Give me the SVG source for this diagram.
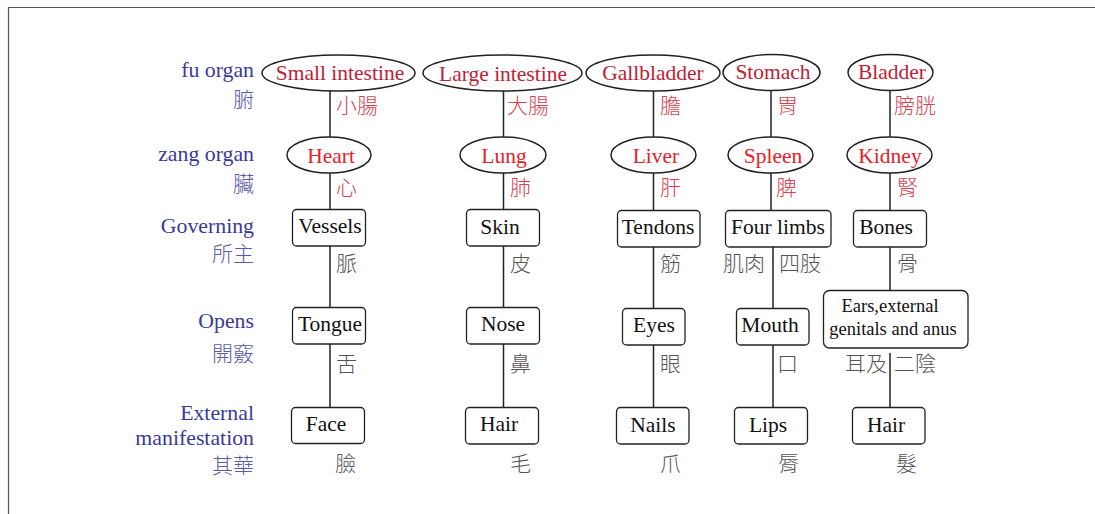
<svg xmlns="http://www.w3.org/2000/svg" width="1095" height="514" viewBox="0 0 1095 514">
<style>
.frame{fill:none;stroke:#555;stroke-width:1.2}
.ell{fill:#fff;stroke:#222;stroke-width:1.5}
.box{fill:#fff;stroke:#222;stroke-width:1.3}
.con{stroke:#222;stroke-width:1.5;fill:none}
.en{font-family:"Liberation Serif",serif;font-size:21.5px;text-anchor:middle}
.fu{fill:#c01d36}
.zang{fill:#e8202a}
.blk{fill:#111}
.lab{font-family:"Liberation Serif",serif;font-size:21.8px;text-anchor:end;fill:#3a3a98}
.cj{font-family:"Noto Sans CJK TC","Noto Sans CJK SC",sans-serif;font-size:21px;font-weight:300}
.cjl{fill:#5a5aa8;text-anchor:end}
.cjr{fill:#d8404f}
.cjg{fill:#555}
</style>
<path class="frame" d="M8.5 514 V7.5 H1095"/>
<g id="row-labels">
<text class="lab" x="254" y="77">fu organ</text>
<text class="cj cjl" x="254" y="107">腑</text>
<text class="lab" x="254" y="161">zang organ</text>
<text class="cj cjl" x="254" y="191">臟</text>
<text class="lab" x="254" y="233">Governing</text>
<text class="cj cjl" x="254" y="261">所主</text>
<text class="lab" x="254" y="328">Opens</text>
<text class="cj cjl" x="254" y="361">開竅</text>
<text class="lab" x="254" y="420">External</text>
<text class="lab" x="254" y="445">manifestation</text>
<text class="cj cjl" x="254" y="473">其華</text>
</g>
<g id="connectors">
<path class="con" d="M330 91V137M330 173V209M330 246V307M330 344V407"/>
<path class="con" d="M503.5 91V137M503.5 173V209M503.5 246V307M503.5 344V407"/>
<path class="con" d="M653.5 91V137M653.5 173V210M653.5 247V308M653.5 345V407"/>
<path class="con" d="M771 91V137M771 173V210M773 247V308M773 345V407"/>
<path class="con" d="M890 91V137M890 173V210M890 247V290M890 353V407"/>
</g>
<g id="small-intestine"><ellipse class="ell" cx="338.5" cy="73" rx="76.5" ry="18"/><text class="en fu" x="340" y="80">Small intestine</text><text class="cj cjr" x="336" y="113">小腸</text></g>
<g id="large-intestine"><ellipse class="ell" cx="502.5" cy="73" rx="79.5" ry="18"/><text class="en fu" x="503" y="81">Large intestine</text><text class="cj cjr" x="507" y="113">大腸</text></g>
<g id="gallbladder"><ellipse class="ell" cx="653" cy="73" rx="67" ry="18"/><text class="en fu" x="653" y="80">Gallbladder</text><text class="cj cjr" x="660" y="113">膽</text></g>
<g id="stomach"><ellipse class="ell" cx="771.5" cy="72.5" rx="48.5" ry="18"/><text class="en fu" x="773" y="79">Stomach</text><text class="cj cjr" x="777" y="113">胃</text></g>
<g id="bladder"><ellipse class="ell" cx="890.5" cy="72.5" rx="42.5" ry="18"/><text class="en fu" x="892" y="79">Bladder</text><text class="cj cjr" x="894" y="113">膀胱</text></g>
<g id="heart"><ellipse class="ell" cx="329" cy="155" rx="42" ry="18"/><text class="en zang" x="331" y="163">Heart</text><text class="cj cjr" x="336" y="195">心</text></g>
<g id="lung"><ellipse class="ell" cx="503" cy="155" rx="43" ry="18"/><text class="en zang" x="504" y="163">Lung</text><text class="cj cjr" x="510" y="195">肺</text></g>
<g id="liver"><ellipse class="ell" cx="653.5" cy="155" rx="42.5" ry="18"/><text class="en zang" x="656" y="163">Liver</text><text class="cj cjr" x="660" y="195">肝</text></g>
<g id="spleen"><ellipse class="ell" cx="770.5" cy="155" rx="42.5" ry="18"/><text class="en zang" x="773" y="163">Spleen</text><text class="cj cjr" x="776" y="195">脾</text></g>
<g id="kidney"><ellipse class="ell" cx="889.5" cy="155" rx="42.5" ry="18"/><text class="en zang" x="890" y="163">Kidney</text><text class="cj cjr" x="897" y="195">腎</text></g>
<g id="vessels"><rect class="box" x="292.5" y="209.5" width="73" height="36.5" rx="4"/><text class="en blk" x="330" y="233">Vessels</text><text class="cj cjg" x="336" y="271">脈</text></g>
<g id="skin"><rect class="box" x="466.5" y="209.5" width="73" height="36.5" rx="4"/><text class="en blk" x="500" y="234">Skin</text><text class="cj cjg" x="510" y="271">皮</text></g>
<g id="tendons"><rect class="box" x="617.5" y="210.5" width="82.5" height="36.5" rx="4"/><text class="en blk" x="658" y="234">Tendons</text><text class="cj cjg" x="660" y="271">筋</text></g>
<g id="four-limbs"><rect class="box" x="725.5" y="210.5" width="105.5" height="36.5" rx="4"/><text class="en blk" x="778" y="234">Four limbs</text><text class="cj cjg" x="723" y="271">肌肉</text><text class="cj cjg" x="779" y="271">四肢</text></g>
<g id="bones"><rect class="box" x="853.5" y="210.5" width="73" height="36.5" rx="4"/><text class="en blk" x="886" y="234">Bones</text><text class="cj cjg" x="897" y="271">骨</text></g>
<g id="tongue"><rect class="box" x="292.5" y="307.5" width="73" height="36.5" rx="4"/><text class="en blk" x="330" y="331">Tongue</text><text class="cj cjg" x="336" y="371">舌</text></g>
<g id="nose"><rect class="box" x="466.5" y="307.5" width="73" height="36.5" rx="4"/><text class="en blk" x="503" y="331">Nose</text><text class="cj cjg" x="510" y="371">鼻</text></g>
<g id="eyes"><rect class="box" x="622.5" y="308.5" width="62.5" height="36.5" rx="4"/><text class="en blk" x="654" y="332">Eyes</text><text class="cj cjg" x="660" y="371">眼</text></g>
<g id="mouth"><rect class="box" x="736.5" y="308.5" width="72.5" height="36.5" rx="4"/><text class="en blk" x="770" y="332">Mouth</text><text class="cj cjg" x="777" y="371">口</text></g>
<g id="ears"><rect class="box" x="823.5" y="290.5" width="144.5" height="57.5" rx="6"/><text class="en blk" style="font-size:18.5px" x="890" y="312">Ears,external</text><text class="en blk" style="font-size:18.5px" x="893" y="335">genitals and anus</text><text class="cj cjg" x="845" y="371">耳及</text><text class="cj cjg" x="894" y="371">二陰</text></g>
<g id="face"><rect class="box" x="291.5" y="407.5" width="73" height="36" rx="4"/><text class="en blk" x="326" y="431">Face</text><text class="cj cjg" x="335" y="471">臉</text></g>
<g id="hair1"><rect class="box" x="465.5" y="407.5" width="73" height="36.5" rx="4"/><text class="en blk" x="499" y="431">Hair</text><text class="cj cjg" x="510" y="471">毛</text></g>
<g id="nails"><rect class="box" x="616.5" y="407.5" width="72.5" height="36.5" rx="4"/><text class="en blk" x="653" y="432">Nails</text><text class="cj cjg" x="660" y="471">爪</text></g>
<g id="lips"><rect class="box" x="734.5" y="407.5" width="73" height="36.5" rx="4"/><text class="en blk" x="768" y="432">Lips</text><text class="cj cjg" x="778" y="471">脣</text></g>
<g id="hair2"><rect class="box" x="852.5" y="407.5" width="72.5" height="36.5" rx="4"/><text class="en blk" x="886" y="432">Hair</text><text class="cj cjg" x="896" y="471">髮</text></g>
</svg>
